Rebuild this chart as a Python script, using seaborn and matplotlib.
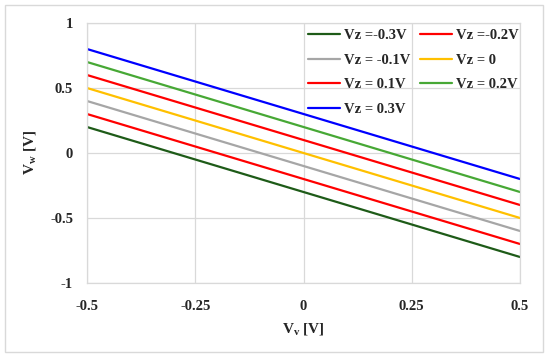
import matplotlib
matplotlib.use('Agg')
import matplotlib.pyplot as plt
from matplotlib.patches import Rectangle
import pandas as pd
import seaborn as sns

# data: straight lines from Vv=-0.5 to Vv=0.5
vv = [-0.5, 0.5]
labels = ['Vz =-0.3V', 'Vz =-0.2V', 'Vz = -0.1V', 'Vz = 0', 'Vz = 0.1V', 'Vz = 0.2V', 'Vz = 0.3V']
vw_m03 = [0.2, -0.8]
vw_m02 = [0.3, -0.7]
vw_m01 = [0.4, -0.6]
vw_0 = [0.5, -0.5]
vw_p01 = [0.6, -0.4]
vw_p02 = [0.7, -0.3]
vw_p03 = [0.8, -0.2]
colors = ['#1E5B18', '#FF0000', '#A6A6A6', '#FFC000', '#FF0000', '#47A835', '#0000FF']

series = [vw_m03, vw_m02, vw_m01, vw_0, vw_p01, vw_p02, vw_p03]
rows = []
for lab, vals in zip(labels, series):
    for x, y in zip(vv, vals):
        rows.append({'Vv': x, 'Vw': y, 'Vz': lab})
df = pd.DataFrame(rows)

sns.set_style('white')
plt.rcParams['font.family'] = ['Liberation Serif', 'DejaVu Serif']
plt.rcParams['font.weight'] = 'bold'
plt.rcParams['mathtext.fontset'] = 'custom'
plt.rcParams['mathtext.rm'] = 'Liberation Serif:bold'
plt.rcParams['mathtext.bf'] = 'Liberation Serif:bold'
plt.rcParams['mathtext.default'] = 'bf'

fig = plt.figure(figsize=(5.5, 3.57), dpi=100)
ax = fig.add_axes([87/550, 1-283/357, 433/550, 260/357])

sns.lineplot(data=df, x='Vv', y='Vw', hue='Vz', hue_order=labels,
             palette=colors, linewidth=1.6, ax=ax, legend=True)

ax.set_xlim(-0.5, 0.5)
ax.set_ylim(-1, 1)
ax.set_xticks([-0.5, -0.25, 0, 0.25, 0.5])
ax.set_xticklabels(['-0.5', '-0.25', '0', '0.25', '0.5'])
ax.set_yticks([-1, -0.5, 0, 0.5, 1])
ax.set_yticklabels(['-1', '-0.5', '0', '0.5', '1'])
ax.tick_params(axis='both', length=0, labelsize=10.5)
ax.tick_params(axis='x', pad=12)
ax.tick_params(axis='y', pad=10)
for t in ax.get_xticklabels() + ax.get_yticklabels():
    t.set_fontweight('bold')
ax.grid(True, color='#D9D9D9', linewidth=0.9)
for s in ax.spines.values():
    s.set_color('#D9D9D9')
    s.set_linewidth(0.9)

ax.set_xlabel(r'V$_{v}$ [V]', fontsize=11, fontweight='bold', labelpad=6)
ax.set_ylabel(r'V$_{w}$ [V]', fontsize=11, fontweight='bold', labelpad=9)

# legend in row-major order like the original
h, l = ax.get_legend_handles_labels()
order = [0, 2, 4, 6, 1, 3, 5]
ax.legend([h[i] for i in order], [l[i] for i in order], ncol=2,
          loc='upper left', bbox_to_anchor=(0.497, 1.0), borderaxespad=0,
          handlelength=2.2, handletextpad=0.25, frameon=False,
          columnspacing=0.7, labelspacing=0.78, prop={'weight': 'bold', 'size': 10.5})

fig.patches.append(Rectangle((5/550, 5/357), 538/550, 347/357, transform=fig.transFigure,
                             fill=False, edgecolor='#D9D9D9', linewidth=1))

fig.savefig('out.png', dpi=100)
